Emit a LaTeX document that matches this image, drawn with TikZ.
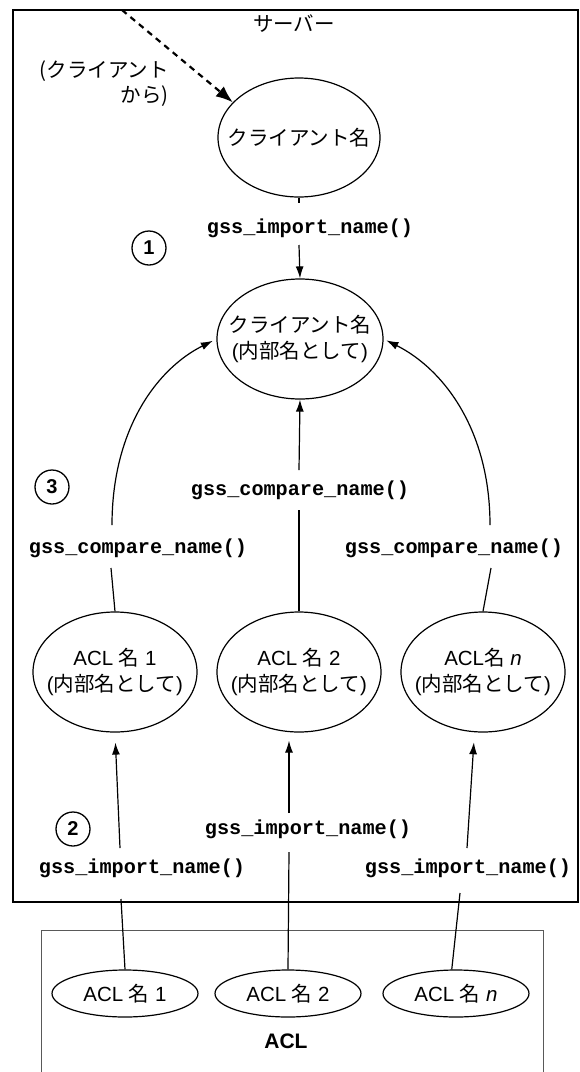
\documentclass[tikz,border=0pt]{standalone}
\usepackage{fontspec}
\setmainfont{Liberation Sans}
\newfontfamily\jpf{Noto Sans CJK JP}
\newfontfamily\monof{Liberation Mono}
\usetikzlibrary{shapes.geometric,arrows.meta,calc}
\begin{document}
\begin{tikzpicture}[x=1pt,y=-1pt,
  every node/.style={inner sep=0pt},
  txt/.style={align=center,inner sep=0pt,font=\fontsize{20.5}{26}\selectfont},
  oval/.style={draw,ellipse,line width=1.2pt,inner sep=0pt,
    minimum width=164pt,minimum height=120pt,label={[txt]center:#1}},
  small/.style={draw,ellipse,line width=1.2pt,inner sep=0pt,
    minimum width=146pt,minimum height=47pt,label={[txt]center:#1}},
  fn/.style={font=\monof\bfseries\fontsize{20.2}{20}\selectfont},
  num/.style={draw,circle,line width=1.3pt,minimum size=34pt,
    font=\bfseries\fontsize{20}{20}\selectfont},
  conn/.style={line width=1.2pt},
  arr/.style={conn,-{Latex[length=12pt,width=8pt]}},
]
\useasboundingbox (0,0) rectangle (579,1072);

% frames
\draw[line width=2.2pt] (13,10) rectangle (578,902);
\draw[black!65,line width=0.9pt] (41,1090) -- (41,930) -- (543,930) -- (543,1090);

% texts
\node[font=\jpf\fontsize{20.5}{20}\selectfont] (srv) at (294,24) {サーバー};
\node[align=right,anchor=east,font=\jpf\fontsize{20.5}{25}\selectfont] (from) at (169,84) {(クライアント\\から)};

% ellipses
\node[oval={{\jpf クライアント名}},minimum width=162pt,minimum height=119pt] (c1) at (299,137.5) {};
\node[oval={{\jpf クライアント名}\\({\jpf 内部名として})},minimum width=166pt] (c2) at (300,339) {};
\node[oval={ACL {\jpf 名} 1\\({\jpf 内部名として})}] (a1) at (115,672) {};
\node[oval={ACL {\jpf 名} 2\\({\jpf 内部名として})}] (a2) at (299,672) {};
\node[oval={ACL{\jpf 名} \textit{n}\\({\jpf 内部名として})}] (an) at (483,672) {};
\node[small={ACL {\jpf 名} 1}] (s1) at (125,993.5) {};
\node[small={ACL {\jpf 名} 2}] (s2) at (288,993.5) {};
\node[small={ACL {\jpf 名} \textit{n}}] (sn) at (456,993.5) {};

% function labels
\node[fn] (imp1) at (310,228) {gss\_import\_name()};
\node[fn] (cmpM) at (300,490) {gss\_compare\_name()};
\node[fn] (cmpL) at (138,548) {gss\_compare\_name()};
\node[fn] (cmpR) at (454,548) {gss\_compare\_name()};
\node[fn] (impM) at (308,829) {gss\_import\_name()};
\node[fn] (impL) at (142,868) {gss\_import\_name()};
\node[fn] (impR) at (468,868) {gss\_import\_name()};

% step numbers
\node[num] (n1) at (149,248) {1};
\node[num] (n3) at (52,487) {3};
\node[num] (n2) at (73,829) {2};

\node[font=\bfseries\fontsize{21}{21}\selectfont] (acl) at (286,1041) {ACL};

% connectors
\coordinate (src) at (122,10);
\draw[line width=2.2pt,dash pattern=on 6pt off 5pt,-{Latex[length=17pt,width=13pt]}] (src) -- (c1.152);

\coordinate (t1) at (299,203);
\draw[conn] (c1.south) -- (t1);
\coordinate (t2) at (299,245);
\draw[arr] (t2) -- (c2.north);

\coordinate (m1) at (299,470);
\draw[arr] (m1) -- (c2.south);
\coordinate (m2) at (299,510);
\draw[conn] (m2) -- (a2.north);

\coordinate (l1) at (112,525);
\draw[arr,shorten >=4pt] (l1) .. controls +(0,-95) and +(-60,30) .. (c2.west);
\coordinate (r1) at (490,525);
\draw[arr,shorten >=3pt] (r1) .. controls +(0,-95) and +(60,30) .. (c2.east);

\coordinate (l2) at (111,568);
\draw[conn] (l2) -- (a1.north);
\coordinate (r2) at (491,568);
\draw[conn] (r2) -- (an.north);

\coordinate (b1) at (120,848);
\draw[arr,shorten >=10pt] (b1) -- (a1.south);
\coordinate (b2) at (289,813);
\draw[arr,shorten >=8pt] (b2) -- (b2 |- a2.south);
\coordinate (b3) at (467,848);
\draw[arr,shorten >=10pt] (b3) -- (an.262);

\coordinate (d1) at (121,899);
\draw[conn] (d1) -- (s1.north);
\coordinate (d2) at (289,852);
\draw[conn] (d2) -- (s2.north);
\coordinate (d3) at (460,893);
\draw[conn] (d3) -- (sn.100);
\end{tikzpicture}
\end{document}
